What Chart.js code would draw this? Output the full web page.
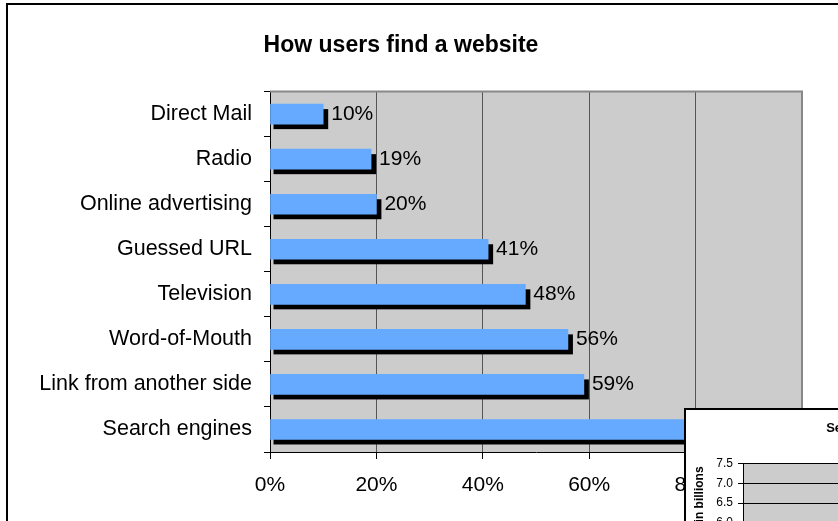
<!DOCTYPE html>
<html><head><meta charset="utf-8">
<script src="https://cdn.jsdelivr.net/npm/chart.js@4"></script>
<style>
html,body{margin:0;padding:0;background:#fff;}
#wrap{position:relative;width:838px;height:521px;overflow:hidden;}
#frame{position:absolute;left:6px;top:3px;width:1000px;height:1000px;border:2px solid #000;background:#fff;}
#main{position:absolute;left:0;top:0;}
#inset{position:absolute;left:684px;top:408px;border:2px solid #000;background:#fff;width:600px;height:300px;}
#insetCanvas{position:absolute;left:0;top:0;}
</style></head>
<body>
<div id="wrap">
  <div id="frame"></div>
  <canvas id="main" width="804" height="521"></canvas>
  <div id="inset"><canvas id="insetCanvas" width="400" height="200"></canvas></div>
</div>
<script>
// ---- data ----
const categories = ["Direct Mail","Radio","Online advertising","Guessed URL","Television","Word-of-Mouth","Link from another side","Search engines"];
const shares = [10, 19, 20, 41, 48, 56, 59, 85];
const xTicks = [0, 20, 40, 60, 80, 100];
const chartTitle = "How users find a website";

const insetTitle = "Searches per day";
const insetAxisTitle = "Searches in billions";
const insetTicks = [4.5, 5.0, 5.5, 6.0, 6.5, 7.0, 7.5];
const insetCategories = [];
const insetValues = [];

const FONT = "'Liberation Sans', Arial, sans-serif";

const plotBg = {
  id: 'plotBg',
  beforeDraw(chart, args, opts) {
    const {ctx, chartArea: a} = chart;
    ctx.save();
    ctx.fillStyle = opts.color || '#cccccc';
    ctx.fillRect(a.left, a.top, a.right - a.left, a.bottom - a.top);
    ctx.restore();
  },
  beforeDatasetsDraw(chart, args, opts) {
    if (!opts.border) return;
    const {ctx, chartArea: a} = chart;
    ctx.save();
    ctx.strokeStyle = '#888';
    ctx.lineWidth = 2;
    ctx.beginPath();
    ctx.moveTo(a.left, a.top); ctx.lineTo(a.right, a.top); ctx.lineTo(a.right, a.bottom);
    ctx.stroke();
    ctx.restore();
  }
};

const shadowAndLabels = {
  id: 'shadowAndLabels',
  beforeDatasetsDraw(chart) {
    const {ctx} = chart;
    const meta = chart.getDatasetMeta(0);
    ctx.save();
    ctx.fillStyle = '#000';
    meta.data.forEach(b => {
      const h = b.height;
      ctx.fillRect(b.base + 3, b.y - h / 2 + 5, b.x - b.base + 2, h);
    });
    ctx.restore();
  },
  afterDatasetsDraw(chart) {
    const {ctx} = chart;
    const meta = chart.getDatasetMeta(0);
    const data = chart.data.datasets[0].data;
    ctx.save();
    ctx.fillStyle = '#000';
    ctx.font = "21px " + FONT;
    ctx.textBaseline = 'middle';
    ctx.textAlign = 'left';
    meta.data.forEach((b, i) => {
      ctx.fillText(data[i] + '%', b.x + 8, b.y);
    });
    ctx.restore();
  }
};

new Chart(document.getElementById('main'), {
  type: 'bar',
  data: {
    labels: categories,
    datasets: [{
      data: shares,
      backgroundColor: '#65aaff',
      borderWidth: 0,
      barThickness: 20
    }]
  },
  plugins: [plotBg, shadowAndLabels],
  options: {
    indexAxis: 'y',
    responsive: false,
    animation: false,
    layout: {padding: {left: 0, right: 2, top: 0, bottom: 0}},
    plugins: {
      legend: {display: false},
      tooltip: {enabled: false},
      title: {
        display: true,
        text: chartTitle,
        color: '#000',
        font: {family: FONT, size: 23, weight: 'bold'},
        padding: {top: 32, bottom: 32}
      },
      plotBg: {color: '#cccccc', border: true}
    },
    scales: {
      x: {
        min: 0, max: 100,
        afterBuildTicks(s) { s.ticks = xTicks.map(v => ({value: v})); },
        afterFit(s) { s.height = 69; s.paddingLeft = 0; s.paddingRight = 0; },
        ticks: {
          color: '#000',
          font: {family: FONT, size: 21},
          padding: 14,
          callback: v => v + '%',
          maxRotation: 0
        },
        grid: {color: '#555', lineWidth: 1, tickLength: 7, tickColor: '#000', drawOnChartArea: true},
        border: {color: '#000', width: 1}
      },
      y: {
        afterFit(s) { s.width = 270; },
        ticks: {color: '#000', font: {family: FONT, size: 21.5}, padding: 12},
        grid: {drawOnChartArea: false, offset: true, tickLength: 6, tickColor: '#000'},
        border: {color: '#000', width: 1}
      }
    }
  }
});

// ---- inset chart ----
const ic = document.getElementById('insetCanvas');
const mctx = ic.getContext('2d');
mctx.font = "bold 13px " + FONT;
const tw = mctx.measureText(insetTitle).width;
ic.width = Math.round(2 * (826 - 686) + tw + 10);
ic.height = 200;

new Chart(ic, {
  type: 'bar',
  data: {
    labels: insetCategories,
    datasets: [{data: insetValues, backgroundColor: '#65aaff'}]
  },
  plugins: [plotBg],
  options: {
    responsive: false,
    animation: false,
    layout: {padding: {left: 0, right: 10, top: 0, bottom: 28}},
    plugins: {
      legend: {display: false},
      tooltip: {enabled: false},
      title: {
        display: true,
        text: insetTitle,
        color: '#000',
        font: {family: FONT, size: 13, weight: 'bold'},
        padding: {top: 11, bottom: 27}
      },
      plotBg: {color: '#cccccc', border: false}
    },
    scales: {
      x: {display: false},
      y: {
        min: insetTicks[0], max: insetTicks[insetTicks.length - 1],
        afterBuildTicks(s) { s.ticks = insetTicks.map(v => ({value: v})); },
        afterFit(s) { s.width = 57; },
        ticks: {color: '#000', font: {family: FONT, size: 12}, padding: 5, callback: v => Number(v).toFixed(1)},
        grid: {color: '#000', lineWidth: 1, tickLength: 5, tickColor: '#000'},
        border: {color: '#000', width: 1},
        title: {display: true, text: insetAxisTitle, color: '#000', font: {family: FONT, size: 12, weight: 'bold'}, padding: {top: 6, bottom: 4}}
      }
    }
  }
});
</script>
</body></html>
